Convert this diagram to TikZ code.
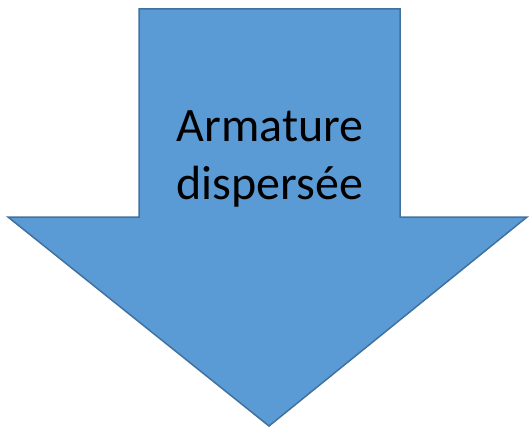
\documentclass[tikz,border=0pt]{standalone}
\usepackage{fontspec}
\setmainfont{Carlito}
\usepackage{tikz}
\usetikzlibrary{positioning, calc}
\definecolor{arrowblue}{RGB}{91,155,213}
\definecolor{arrowedge}{RGB}{65,113,156}

\begin{document}
\begin{tikzpicture}[x=1pt, y=1pt,
  bigarrow/.style={fill=arrowblue, draw=arrowedge, line width=1.5pt, line join=miter},
  caption/.style={align=center, inner sep=0pt, font=\fontsize{48}{58}\selectfont}
]
\useasboundingbox (0,0) rectangle (529,429);
\draw[bigarrow] (139,420) -- (400,420) -- (400,212) -- (527,212)
  -- (269,3) -- (8,212) -- (139,212) -- cycle;
\node[caption] (label) at (270,270) {Armature\\dispersée};
\end{tikzpicture}
\end{document}
